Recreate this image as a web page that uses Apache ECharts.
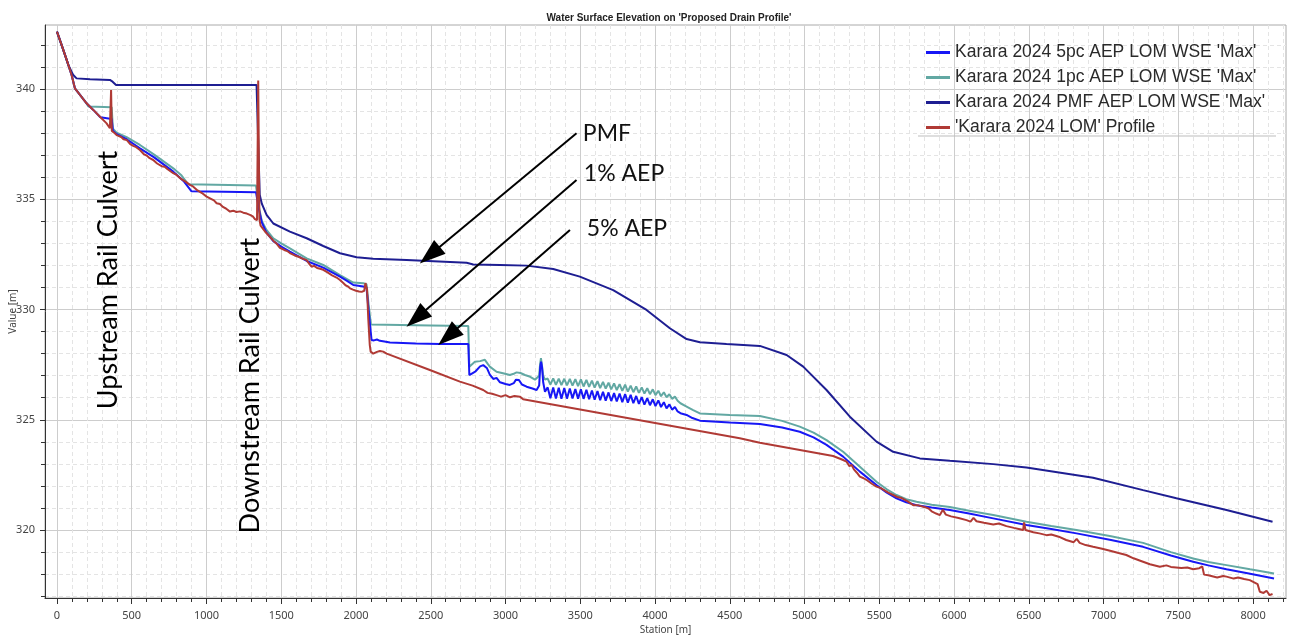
<!DOCTYPE html>
<html><head><meta charset="utf-8">
<script src="https://cdn.jsdelivr.net/npm/echarts@6/dist/echarts.min.js"></script>
<style>html,body{margin:0;padding:0;background:#fff}#c{width:1290px;height:639px}</style>
</head><body><div id="c"></div>
<script>
// ---------- DATA ----------
const seriesNames = ["Karara 2024 5pc AEP LOM WSE 'Max'", "Karara 2024 1pc AEP LOM WSE 'Max'", "Karara 2024 PMF AEP LOM WSE 'Max'", "'Karara 2024 LOM' Profile"];
const xMajorTicks = [0,500,1000,1500,2000,2500,3000,3500,4000,4500,5000,5500,6000,6500,7000,7500,8000];
const xMinorTicks = [100,200,300,400,600,700,800,900,1100,1200,1300,1400,1600,1700,1800,1900,2100,2200,2300,2400,2600,2700,2800,2900,3100,3200,3300,3400,3600,3700,3800,3900,4100,4200,4300,4400,4600,4700,4800,4900,5100,5200,5300,5400,5600,5700,5800,5900,6100,6200,6300,6400,6600,6700,6800,6900,7100,7200,7300,7400,7600,7700,7800,7900,8100,8200];
const yMajorTicks = [320,325,330,335,340];
const yMinorTicks = [317,318,319,321,322,323,324,326,327,328,329,331,332,333,334,336,337,338,339,341,342];

const wse5pc = [[0,342.6],[31,342.0],[65,341.32],[98,340.63],[120,340.03],[154,339.73],[198,339.35],[243,339.05],[290,338.72],[299,338.7],[366,338.64],[374,338.1],[399,337.95],[466,337.72],[555,337.31],[650,336.9],[778,336.25],[850,335.8],[900,335.36],[1331,335.32],[1340,335.3],[1352,334.5],[1370,333.95],[1400,333.5],[1447,333.1],[1500,332.85],[1558,332.62],[1670,332.2],[1781,331.9],[1893,331.49],[1940,331.3],[1982,331.11],[2049,331.04],[2070,331.0],[2085,329.9],[2104,328.62],[2120,328.6],[2140,328.64],[2160,328.58],[2190,328.55],[2227,328.5],[2400,328.46],[2561,328.44],[2751,328.44],[2758,327.03],[2800,327.2],[2830,327.42],[2851,327.48],[2875,327.35],[2895,327.05],[2918,326.85],[2940,326.9],[2963,326.7],[3000,326.62],[3029,326.58],[3055,326.66],[3070,326.82],[3090,326.8],[3110,326.6],[3141,326.5],[3180,326.42],[3208,326.35],[3225,326.55],[3232,327.4],[3238,327.63],[3244,327.4],[3252,326.7],[3264,326.27],
[3282,326.47],[3300,325.98],[3319,326.46],[3337,325.96],[3356,326.45],[3374,325.95],[3393,326.44],[3411,325.96],[3430,326.42],[3448,325.97],[3467,326.40],[3485,325.96],[3504,326.38],[3522,325.95],[3541,326.36],[3559,325.93],[3578,326.33],[3596,325.91],[3615,326.30],[3633,325.89],[3652,326.27],[3670,325.87],[3689,326.24],[3707,325.85],[3726,326.21],[3744,325.83],[3763,326.19],[3781,325.80],[3800,326.17],[3818,325.78],[3837,326.13],[3855,325.75],[3874,326.08],[3892,325.72],[3911,326.03],[3929,325.69],[3948,325.98],[3966,325.66],[3985,325.93],[4003,325.62],[4022,325.88],[4040,325.58],[4059,325.80],[4077,325.52],[4096,325.70],[4114,325.46],[4133,325.58],[4151,325.38],
[4170,325.3],[4211,325.22],[4250,325.08],[4300,324.96],[4500,324.88],[4701,324.81],[4850,324.65],[4968,324.46],[5060,324.2],[5147,323.86],[5258,323.33],[5370,322.65],[5481,322.04],[5550,321.7],[5615,321.44],[5680,321.26],[5749,321.13],[5850,321.02],[5972,320.91],[6100,320.75],[6262,320.53],[6484,320.23],[6650,320.05],[6819,319.85],[7050,319.55],[7264,319.24],[7450,318.85],[7599,318.56],[7700,318.4],[7822,318.22],[7980,318.02],[8140,317.8]];

const wse1pc = [[0,342.6],[31,342.0],[65,341.32],[98,340.63],[120,340.03],[154,339.73],[195,339.38],[210,339.2],[366,339.17],[374,338.2],[399,338.02],[466,337.82],[555,337.46],[650,337.02],[778,336.4],[830,336.1],[878,335.68],[1331,335.62],[1340,335.6],[1352,334.6],[1370,334.02],[1400,333.62],[1447,333.23],[1500,333.0],[1558,332.77],[1670,332.32],[1781,332.02],[1893,331.56],[1940,331.38],[1982,331.22],[2049,331.19],[2070,331.15],[2085,330.2],[2100,329.32],[2300,329.3],[2500,329.28],[2751,329.25],[2758,327.41],[2795,327.63],[2830,327.66],[2862,327.72],[2880,327.55],[2895,327.41],[2940,327.18],[2990,327.1],[3029,327.03],[3060,327.1],[3074,327.15],[3100,327.12],[3130,327.03],[3165,326.95],[3197,326.82],[3225,327.0],[3231,327.5],[3237,327.79],[3243,327.5],[3252,327.0],[3264,326.82],
[3282,326.87],[3300,326.60],[3319,326.88],[3337,326.58],[3356,326.87],[3374,326.57],[3393,326.86],[3411,326.56],[3430,326.85],[3448,326.55],[3467,326.84],[3485,326.53],[3504,326.83],[3522,326.51],[3541,326.81],[3559,326.49],[3578,326.78],[3596,326.46],[3615,326.75],[3633,326.44],[3652,326.72],[3670,326.41],[3689,326.68],[3707,326.38],[3726,326.65],[3744,326.35],[3763,326.62],[3781,326.31],[3800,326.59],[3818,326.28],[3837,326.55],[3855,326.25],[3874,326.51],[3892,326.22],[3911,326.47],[3929,326.19],[3948,326.43],[3966,326.16],[3985,326.38],[4003,326.12],[4022,326.32],[4040,326.07],[4059,326.25],[4077,326.02],[4096,326.16],[4114,325.95],[4133,326.05],[4151,325.86],
[4170,325.75],[4211,325.6],[4255,325.44],[4300,325.29],[4500,325.22],[4701,325.17],[4850,324.95],[4968,324.69],[5060,324.42],[5147,324.08],[5258,323.55],[5370,322.87],[5481,322.19],[5550,321.85],[5615,321.59],[5680,321.4],[5749,321.28],[5850,321.15],[5972,321.05],[6100,320.88],[6262,320.68],[6484,320.38],[6650,320.18],[6819,320.0],[7050,319.72],[7264,319.42],[7450,319.0],[7599,318.71],[7700,318.55],[7822,318.41],[7980,318.22],[8140,318.03]];

const wsePmf = [[0,342.6],[42,341.77],[76,341.09],[109,340.63],[131,340.48],[221,340.44],[354,340.41],[372,340.33],[395,340.18],[1335,340.18],[1345,340.17],[1356,335.2],[1370,334.8],[1402,334.29],[1447,333.9],[1558,333.53],[1670,333.23],[1781,332.88],[1893,332.55],[2004,332.37],[2115,332.3],[2338,332.24],[2740,332.12],[2784,332.04],[2963,332.02],[3141,331.99],[3319,331.84],[3497,331.49],[3720,330.88],[3943,329.98],[4099,329.15],[4211,328.66],[4300,328.52],[4478,328.44],[4701,328.35],[4880,327.94],[4991,327.41],[5147,326.35],[5303,325.14],[5481,324.01],[5593,323.55],[5771,323.25],[5972,323.14],[6262,322.99],[6484,322.84],[6930,322.37],[7264,321.81],[7487,321.44],[7822,320.91],[8130,320.38]];

const lomProfile = [[0,342.6],[31,342.0],[65,341.32],[98,340.63],[120,340.03],[154,339.73],[198,339.35],[243,339.05],[288,338.74],[332,338.44],[354,338.22],[358,338.3],[362,339.95],[367,338.1],[372,338.14],[385,338.0],[399,337.91],[430,337.82],[445,337.72],[466,337.69],[490,337.5],[510,337.42],[530,337.36],[555,337.23],[580,337.05],[600,336.98],[620,336.86],[644,336.78],[670,336.62],[700,336.5],[720,336.47],[740,336.36],[778,336.18],[800,336.1],[830,335.92],[860,335.8],[889,335.65],[910,335.58],[940,335.4],[970,335.28],[1001,335.12],[1030,335.02],[1050,334.95],[1068,334.82],[1090,334.78],[1110,334.65],[1130,334.58],[1157,334.44],[1180,334.48],[1200,334.42],[1225,334.45],[1246,334.39],[1270,334.35],[1291,334.29],[1310,334.22],[1324,334.1],[1338,334.05],[1346,340.38],[1354,334.1],[1362,333.8],[1375,333.72],[1390,333.55],[1410,333.4],[1424,333.3],[1450,333.1],[1470,332.98],[1491,332.8],[1520,332.7],[1540,332.65],[1558,332.56],[1590,332.45],[1620,332.38],[1645,332.3],[1670,332.24],[1690,332.05],[1703,331.94],[1720,331.98],[1740,331.88],[1760,331.85],[1781,331.8],[1810,331.68],[1840,331.55],[1870,331.45],[1893,331.34],[1915,331.2],[1930,331.1],[1945,331.05],[1960,330.96],[1980,330.9],[2000,330.85],[2020,330.82],[2038,330.8],[2055,330.85],[2063,331.2],[2068,331.28],[2074,330.9],[2082,329.6],[2092,328.4],[2098,328.09],[2115,328.0],[2140,328.08],[2160,328.12],[2182,328.09],[2205,328.0],[2494,327.26],[2695,326.73],[2780,326.55],[2851,326.35],[2880,326.22],[2910,326.18],[2940,326.12],[2970,326.05],[3000,326.12],[3030,326.02],[3060,326.08],[3096,326.05],[3105,326.12],[3118,325.93],[4567,324.16],[4701,323.96],[5191,323.36],[5250,323.2],[5281,323.1],[5300,322.9],[5315,322.95],[5330,322.75],[5350,322.6],[5370,322.42],[5395,322.35],[5420,322.25],[5450,322.1],[5481,321.97],[5510,321.9],[5530,321.82],[5560,321.7],[5593,321.59],[5620,321.5],[5650,321.45],[5690,321.3],[5727,321.13],[5760,321.12],[5800,321.05],[5830,320.98],[5850,320.85],[5880,320.75],[5905,320.68],[5925,320.92],[5945,320.7],[5980,320.62],[6030,320.55],[6083,320.45],[6110,320.38],[6130,320.55],[6150,320.4],[6200,320.33],[6262,320.25],[6300,320.3],[6350,320.18],[6400,320.1],[6440,320.04],[6462,320.0],[6468,320.35],[6478,320.0],[6530,319.9],[6570,319.85],[6618,319.77],[6650,319.8],[6700,319.7],[6750,319.55],[6800,319.45],[6820,319.6],[6840,319.42],[6880,319.32],[6930,319.24],[6990,319.15],[7050,319.05],[7100,318.96],[7152,318.87],[7200,318.72],[7250,318.6],[7310,318.45],[7376,318.34],[7420,318.4],[7450,318.33],[7520,318.28],[7560,318.3],[7599,318.22],[7640,318.27],[7660,318.35],[7672,317.98],[7700,317.95],[7760,317.85],[7800,317.92],[7822,317.89],[7870,317.8],[7900,317.85],[7940,317.78],[7978,317.73],[8010,317.62],[8030,317.55],[8045,317.2],[8070,317.15],[8090,317.25],[8110,317.05],[8130,317.1]];

// ---------- ANNOTATIONS (data coordinates) ----------
const culvertLabels = [
  {text:'Upstream Rail Culvert', at:[341,331.34]},
  {text:'Downstream Rail Culvert', at:[1291,326.55]}
];
const eventLabels = [
  {text:'PMF', at:[3517,337.96], tail:[3475,337.99], tip:[2427,332.09]},
  {text:'1% AEP', at:[3524,336.15], tail:[3475,335.87], tip:[2338,329.22]},
  {text:'5% AEP', at:[3544,333.65], tail:[3431,333.61], tip:[2550,328.39]}
];

// ---------- CHART ----------
const colors = ['#1717f5', '#62a8a3', '#1e1e92', '#b03a35'];
const datasets = [wse5pc, wse1pc, wsePmf, lomProfile];
const labelFont = 'Noto Sans';
const plain = v => String(v);

const chart = echarts.init(document.getElementById('c'), null, {renderer:'canvas'});
const xBase = {type:'value', min:-80, max:8220, position:'bottom', gridIndex:0};
const yBase = {type:'value', min:316.92, max:342.9, position:'left', gridIndex:0};

chart.setOption({
  animation:false,
  backgroundColor:'#fff',
  title:{text:"Water Surface Elevation on 'Proposed Drain Profile'", left:664, top:8, textAlign:'center',
    textStyle:{fontSize:10, fontWeight:'bold', color:'#222', fontFamily:'Liberation Sans'}},
  grid:{left:45, right:4, top:25, bottom:41, show:true, borderColor:'#aaa', borderWidth:1,
    containLabel:false, outerBoundsMode:'none'},
  legend:{orient:'vertical', left:921, top:38, itemWidth:24, itemHeight:3, itemGap:6, icon:'rect',
    data:seriesNames, textStyle:{fontSize:17.5, color:'#2a2a2a', fontFamily:'Liberation Sans', lineHeight:19}},
  xAxis:[
    Object.assign({}, xBase, {
      name:'Station [m]', nameLocation:'middle', nameGap:27, nameMoveOverlap:false,
      nameTextStyle:{fontSize:10, color:'#444', fontFamily:labelFont},
      axisLine:{show:true, onZero:false, lineStyle:{color:'#333', width:1}},
      axisTick:{show:true, customValues:xMajorTicks, length:6, lineStyle:{color:'#333'}},
      axisLabel:{customValues:xMajorTicks, formatter:plain, margin:12, fontSize:11, color:'#444', fontFamily:labelFont},
      splitLine:{show:true, lineStyle:{color:'#cdcdcd', width:1}}
    }),
    Object.assign({}, xBase, {
      axisLine:{show:false, onZero:false},
      axisTick:{show:true, customValues:xMinorTicks, length:4, lineStyle:{color:'#333'}},
      axisLabel:{show:false},
      splitLine:{show:true, lineStyle:{color:'#e4e4e4', width:1, type:[4,3]}}
    })
  ],
  yAxis:[
    Object.assign({}, yBase, {
      name:'Value [m]', nameLocation:'middle', nameGap:27, nameRotate:90, nameMoveOverlap:false,
      nameTextStyle:{fontSize:10, color:'#444', fontFamily:labelFont},
      axisLine:{show:true, onZero:false, lineStyle:{color:'#333', width:1}},
      axisTick:{show:true, customValues:yMajorTicks, length:5, lineStyle:{color:'#333'}},
      axisLabel:{customValues:yMajorTicks, formatter:plain, margin:10, fontSize:11, color:'#444', fontFamily:labelFont},
      splitLine:{show:true, lineStyle:{color:'#cdcdcd', width:1}}
    }),
    Object.assign({}, yBase, {
      axisLine:{show:false, onZero:false},
      axisTick:{show:true, customValues:yMinorTicks, length:4, lineStyle:{color:'#333'}},
      axisLabel:{show:false},
      splitLine:{show:true, lineStyle:{color:'#e4e4e4', width:1, type:[4,3]}}
    })
  ],
  series: datasets.map((d, i) => ({
    name:seriesNames[i], type:'line', data:d, xAxisIndex:0, yAxisIndex:0,
    showSymbol:false, symbol:'none', smooth:false,
    lineStyle:{color:colors[i], width:2}, itemStyle:{color:colors[i]},
    z: 2 + (i === 3 ? 3 : i === 2 ? 2 : i === 0 ? 1 : 0)
  }))
});

// ---------- ANNOTATION GRAPHICS ----------
const toPx = p => chart.convertToPixel({seriesIndex:0}, p);
const g = [];
culvertLabels.forEach(c => {
  const p = toPx(c.at);
  g.push({type:'text', x:p[0], y:p[1], rotation:Math.PI/2, z:10,
    style:{text:c.text, fill:'#000', font:'27px Lato', textAlign:'center', textVerticalAlign:'middle'}});
});
eventLabels.forEach(a => {
  const t = toPx(a.at), s = toPx(a.tail), tip = toPx(a.tip);
  g.push({type:'text', x:t[0], y:t[1], z:10,
    style:{text:a.text, fill:'#111', font:'23px Lato', textAlign:'left', textVerticalAlign:'middle'}});
  const dx = tip[0]-s[0], dy = tip[1]-s[1], L = Math.hypot(dx,dy);
  const ux = dx/L, uy = dy/L, hl = 26, hw = 9;
  const bx = tip[0]-ux*hl, by = tip[1]-uy*hl;
  g.push({type:'line', z:10, shape:{x1:s[0], y1:s[1], x2:bx+ux*2, y2:by+uy*2}, style:{stroke:'#000', lineWidth:2}});
  g.push({type:'polygon', z:10, shape:{points:[[tip[0],tip[1]],[bx-uy*hw, by+ux*hw],[bx+uy*hw, by-ux*hw]]}, style:{fill:'#000'}});
});
g.push({type:'line', z:10, shape:{x1:918, y1:136, x2:1276, y2:136}, style:{stroke:'#bdbdbd', lineWidth:1}});
chart.setOption({graphic:g});
</script>
</body></html>
